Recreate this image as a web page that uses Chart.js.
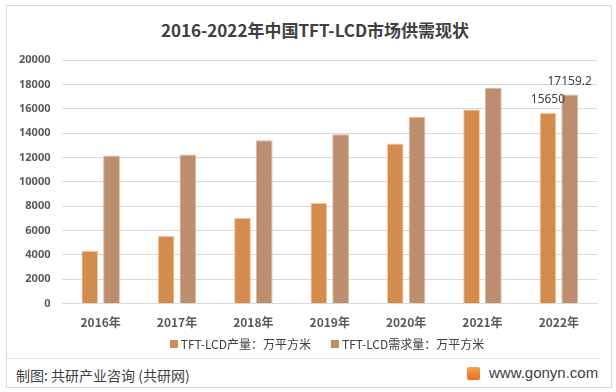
<!DOCTYPE html>
<html>
<head>
<meta charset="utf-8">
<script src="https://cdn.jsdelivr.net/npm/chart.js@4"></script>
<style>
    html, body { margin: 0; padding: 0; background: #ffffff; }
    body { width: 616px; height: 392px; position: relative; overflow: hidden;
           font-family: "Noto Sans CJK SC", "Noto Sans", sans-serif; }
    #frame { position: absolute; left: 6px; top: 5px; width: 606px; height: 383px;
             border: 1px solid #d9d9d9; box-sizing: border-box; }
    #chart-box { position: absolute; left: 0; top: 0; width: 616px; height: 358px; }
    #title { position: absolute; left: 0; top: 18px; width: 630px; text-align: center;
             font-size: 17px; font-weight: bold; color: #404040; line-height: 24px; }
    #legend { position: absolute; left: 0; top: 336px; width: 654px; display: flex;
              justify-content: center; gap: 20px; font-size: 12px; color: #404040; line-height: 16px; }
    #legend .item { display: flex; align-items: center; }
    #legend .swatch { width: 8px; height: 8px; margin-right: 3px; }
    #footer-line { position: absolute; left: 7px; top: 358px; width: 593px; height: 1px; background: #e3e3e3; }
    #source { position: absolute; left: 16px; top: 366px; font-size: 14px; color: #404040; line-height: 18px; }
    #site { position: absolute; left: 489px; top: 364px; font-size: 15px; color: #404040; line-height: 18px;
            font-family: "Liberation Sans", "Noto Sans", sans-serif; }
    #logo { position: absolute; left: 467px; top: 367px; width: 13px; height: 13px; border-radius: 2px;
            background: linear-gradient(#f5a340, #ea6a2c); }
</style>
</head>
<body>
<div id="frame"></div>
<div id="title">2016-2022年中国TFT-LCD市场供需现状</div>
<div id="chart-box"><canvas id="supply-chart"></canvas></div>
<div id="legend"></div>
<div id="footer-line"></div>
<div id="source">制图: 共研产业咨询 (共研网)</div>
<div id="logo"></div>
<div id="site">www.gonyn.com</div>
<script>
// 年份与数值（万平方米）
const years = ['2016年', '2017年', '2018年', '2019年', '2020年', '2021年', '2022年'];
const productionValues = [4340, 5570, 7050, 8260, 13140, 15940, 15650];
const demandValues = [12160, 12240, 13420, 13910, 15310, 17700, 17159.2];
const seriesNames = ['TFT-LCD产量：万平方米', 'TFT-LCD需求量：万平方米'];
const yTicks = [0, 2000, 4000, 6000, 8000, 10000, 12000, 14000, 16000, 18000, 20000];
const labeledYear = '2022年';

const seriesColors = ['rgb(211, 139, 78)', 'rgb(188, 142, 110)'];
const seriesBorders = ['rgba(246, 196, 150, 0.9)', 'rgba(214, 178, 152, 0.9)'];

// 圖例用 HTML 畫
const legendEl = document.getElementById('legend');
seriesNames.forEach((name, i) => {
    const item = document.createElement('div');
    item.className = 'item';
    const sw = document.createElement('span');
    sw.className = 'swatch';
    sw.style.background = seriesColors[i];
    const txt = document.createElement('span');
    txt.textContent = name;
    item.appendChild(sw);
    item.appendChild(txt);
    legendEl.appendChild(item);
});

// 只在最後一年顯示數值標籤
const valueLabelPlugin = {
    id: 'valueLabels',
    afterDatasetsDraw(chart) {
        const ctx = chart.ctx;
        const idx = years.indexOf(labeledYear);
        ctx.save();
        ctx.font = '12px "Noto Sans", "Liberation Sans", sans-serif';
        ctx.fillStyle = '#404040';
        ctx.textAlign = 'center';
        ctx.textBaseline = 'middle';
        chart.data.datasets.forEach((ds, i) => {
            const bar = chart.getDatasetMeta(i).data[idx];
            ctx.fillText(String(ds.data[idx]), bar.x, bar.y - 13);
        });
        ctx.restore();
    }
};

const canvas = document.getElementById('supply-chart');
new Chart(canvas.getContext('2d'), {
    type: 'bar',
    data: {
        labels: years,
        datasets: seriesNames.map((name, i) => ({
            label: name,
            data: i === 0 ? productionValues : demandValues,
            backgroundColor: seriesColors[i],
            borderColor: seriesBorders[i],
            borderWidth: 1,
            barPercentage: 0.77,
            categoryPercentage: 0.57
        }))
    },
    options: {
        responsive: true,
        maintainAspectRatio: false,
        animation: false,
        layout: { padding: { left: 7, right: 19, top: 60, bottom: 16 } },
        plugins: {
            legend: { display: false },
            title: { display: false },
            tooltip: { enabled: false }
        },
        scales: {
            x: {
                grid: { display: false, drawTicks: false },
                border: { color: '#d9d9d9' },
                ticks: {
                    color: '#595959',
                    padding: 12,
                    font: { family: '"Noto Sans CJK SC", sans-serif', size: 12, weight: 'bold' }
                }
            },
            y: {
                min: 0,
                max: 20000,
                afterBuildTicks: axis => { axis.ticks = yTicks.map(v => ({ value: v })); },
                grid: { color: '#d9d9d9', drawTicks: false },
                border: { display: false },
                ticks: {
                    color: '#595959',
                    padding: 12,
                    callback: value => String(value),
                    font: { family: '"Noto Sans", sans-serif', size: 11, weight: 'bold' }
                }
            }
        }
    },
    plugins: [valueLabelPlugin]
});
</script>
</body>
</html>
